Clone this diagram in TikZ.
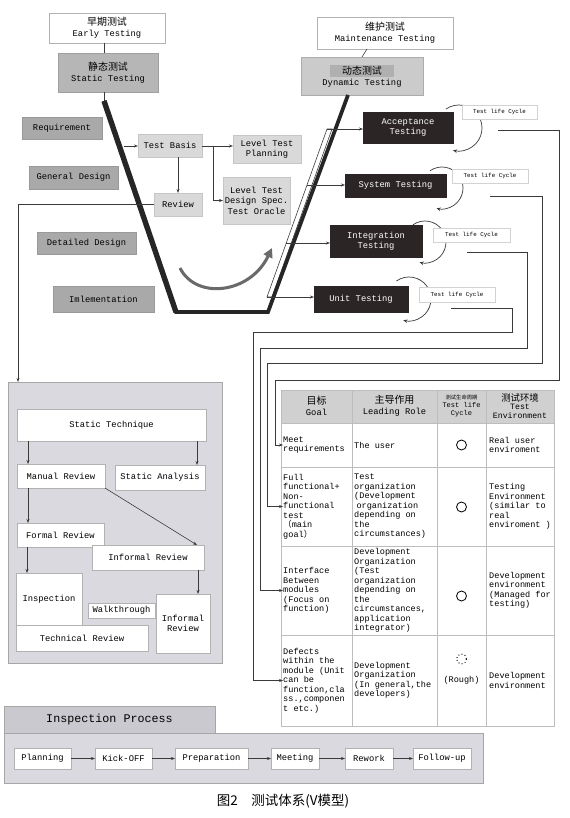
\documentclass[tikz,border=0pt]{standalone}
\usepackage{fontspec}
\setmainfont{Liberation Mono}
\newfontfamily\cjk{Noto Sans CJK SC}
\usepackage{tikz}
\usetikzlibrary{positioning,arrows.meta,calc}
\definecolor{phasec}{HTML}{A9A9A9}
\definecolor{statc}{HTML}{B6B6B6}
\definecolor{dync}{HTML}{CBCBCB}
\definecolor{bandc}{HTML}{B0B0B0}
\definecolor{basec}{HTML}{D9D9D9}
\definecolor{testc}{HTML}{2B2625}
\definecolor{panelc}{HTML}{D9D9DF}
\definecolor{tabc}{HTML}{C9C9CF}
\definecolor{headc}{HTML}{D0D0D0}
\definecolor{linec}{HTML}{3A3A3A}
\definecolor{gridc}{HTML}{BDBDBD}
\definecolor{curvec}{HTML}{6A6A6A}
\newcommand{\zh}[1]{{\cjk\fontsize{8.5}{10}\selectfont #1}}
\newcommand{\boxat}[7]{%
  \node[#6, minimum width={(#4-#2)*0.03cm}, minimum height={(#5-#3)*0.03cm}] (#1) at ({(#2+#4)/2},{(#3+#5)/2}) {#7};
}

\begin{document}
\begin{tikzpicture}[x=0.03cm,y=-0.03cm,
  every node/.style={font=\fontsize{7.5}{9}\selectfont},
  plainbox/.style={draw=gray!60, fill=white, inner sep=0pt, outer sep=0pt, align=center},
  statbox/.style={plainbox, fill=statc, draw=gray!75},
  dynbox/.style={plainbox, fill=dync, draw=gray!65},
  phasebox/.style={plainbox, fill=phasec, draw=gray!80},
  basebox/.style={plainbox, fill=basec, draw=gray!45},
  testbox/.style={plainbox, fill=testc, draw=testc, text=white},
  lifebox/.style={plainbox, draw=gray!35, font=\fontsize{5}{6}\selectfont},
  panel/.style={plainbox, fill=panelc, draw=gray!70},
  arr/.style={draw=linec, line width=0.5pt, -{Stealth[length=3.5pt,width=2.6pt]}},
  looparr/.style={draw=linec, line width=0.6pt, -{Stealth[length=3.5pt,width=3pt]}},
  link/.style={draw=linec, line width=0.5pt},
  cell/.style={align=left, inner sep=0pt, anchor=west, font=\fontsize{7.3}{8.1}\selectfont}]
  \useasboundingbox (0,0) rectangle (570,818);

  % early / maintenance testing
  \boxat{early}{49}{13}{165}{43}{plainbox}{\zh{早期测试}\\Early Testing}
  \boxat{stat}{58}{53}{158}{92}{statbox}{\zh{静态测试}\\Static Testing}
  \boxat{maint}{317}{17}{453}{49}{plainbox}{\zh{维护测试}\\Maintenance Testing}
  \boxat{dyn}{301}{57}{423}{95}{dynbox}{{\fboxsep=1pt\colorbox{bandc}{\makebox[1.85cm]{\zh{动态测试}}}}\\Dynamic Testing}

  % the V
  \coordinate (vtl) at (104,101);
  \coordinate (vbl) at (176,312);
  \coordinate (vbr) at (268,312);
  \coordinate (vtr) at (348,95);
  \draw[link] (early.south -| vtl) -- (stat.north -| vtl);
  \draw[link] (stat.south -| vtl) -- (vtl);
  \draw[link] ([xshift=-0.54cm]maint.south) -- (dyn.north);
  \coordinate (b1) at (327,129);
  \coordinate (b2) at (307,185);
  \coordinate (b3) at (286,243);
  \coordinate (b4) at (267,297);
  \draw[link] (b4) -- (b1) -- (332,129) -- (272,297) -- cycle;
  \draw[line width=3.2pt, black!85, line join=miter] (vtl) -- (vbl) -- (vbr) -- (vtr);
  \draw[line width=4.6pt, black!85] (vtl) -- (vbl);

  % phases
  \boxat{req}{22}{117}{102}{139}{phasebox}{Requirement}
  \boxat{gen}{29}{166}{118}{189}{phasebox}{General Design}
  \boxat{det}{37}{232}{136}{254}{phasebox}{Detailed Design}
  \boxat{imp}{53}{286}{154}{312}{phasebox}{Imlementation}

  \boxat{basis}{138}{134}{202}{157}{basebox}{Test Basis}
  \boxat{ltp}{233}{135}{301}{163}{basebox}{Level Test\\Planning}
  \boxat{lts}{223}{177}{290}{224}{basebox}{Level Test\\Design Spec.\\Test Oracle}
  \boxat{rev}{154}{193}{202}{216}{basebox}{Review}
  \coordinate (vin) at (124,146);
  \coordinate (br) at (213,146);
  \draw[arr] (vin) -- (vin -| basis.west);
  \draw[arr] (basis.east |- vin) -- (vin -| ltp.west);
  \draw[arr] (br) |- (lts.west);
  \draw[arr] (rev.north |- basis.south) -- (rev.north);

  % curved arrow
  \coordinate (cs) at (180,268);
  \coordinate (ce) at (272,248);
  \draw[curvec, line width=2.6pt, -{Triangle[length=8pt,width=8pt]}] (cs) .. controls (196,300) and (250,294) .. (ce);

  % test levels
  \foreach \cx/\cy/\r in {459/128/23, 442/188/21, 425/242/21, 409/299/22}
    \draw[looparr] ([shift={(-125:\r)}]\cx,\cy) arc[start angle=-125, end angle=105, radius=\r];
  \boxat{acc}{363}{112}{453}{143}{testbox}{Acceptance\\Testing}
  \boxat{sys}{345}{174}{446}{197}{testbox}{System Testing}
  \boxat{int}{330}{225}{422}{257}{testbox}{Integration\\Testing}
  \boxat{unit}{314}{286}{408}{312}{testbox}{Unit Testing}
  \draw[arr] (b1) -- (b1 -| acc.west);
  \draw[arr] (b2) -- (b2 -| sys.west);
  \draw[arr] (b3) -- (b3 -| int.west);
  \draw[arr] (b4) -- (b4 -| unit.west);
  \foreach \i/\a/\b/\c/\d in {1/462/105/537/119, 2/452/169/528/183, 3/433/228/510/242, 4/419/287/495/302}
    \boxat{life\i}{\a}{\b}{\c}{\d}{lifebox}{Test life Cycle};

  % table
  \fill[headc] (281,390) rectangle (554,423);
  \draw[gridc, line width=0.6pt] (281,390) rectangle (554,726);
  \foreach \y in {423,467,546,635} \draw[gridc, line width=0.6pt] (281,\y) -- (554,\y);
  \foreach \x in {352,437,486} \draw[gridc, line width=0.6pt] (\x,390) -- (\x,726);
  \node[align=center] (h1) at (316.5,406) {\zh{目标}\\Goal};
  \node[align=center] (h2) at (394.5,406) {\zh{主导作用}\\Leading Role};
  \node[align=center, font=\fontsize{6}{7}\selectfont] (h3) at (461.5,406) {{\cjk\fontsize{4.5}{6}\selectfont 测试生命周期}\\Test life\\Cycle};
  \node[align=center, font=\fontsize{7}{7.6}\selectfont] (h4) at (520,406) {{\cjk\fontsize{8}{9}\selectfont 测试环境}\\Test\\Environment};

  \node[cell] (g1) at (283,445) {Meet\\requirements};
  \node[cell] (r1) at (354,445) {The user};
  \node[cell] (e1) at (489,445) {Real user\\enviroment};
  \node[cell] (g2) at (283,506.5) {Full\\functional+\\Non-\\functional\\test\\{\cjk （}main\\goal{\cjk ）}};
  \node[cell] (r2) at (354,506.5) {Test\\organization\\(Development\\\hspace{2pt}organization\\depending on\\the\\circumstances)};
  \node[cell] (e2) at (489,506.5) {Testing\\Environment\\(similar to\\real\\enviroment )};
  \node[cell] (g3) at (283,590.5) {Interface\\Between\\modules\\(Focus on\\function)};
  \node[cell] (r3) at (354,590.5) {Development\\Organization\\(Test\\organization\\depending on\\the\\circumstances,\\application\\integrator)};
  \node[cell] (e3) at (489,590.5) {Development\\environment\\(Managed for\\testing)};
  \node[cell] (g4) at (283,680.5) {Defects\\within the\\module (Unit\\can be\\function,cla\\ss.,componen\\t etc.)};
  \node[cell] (r4) at (354,680.5) {Development\\Organization\\(In general,the\\developers)};
  \node[cell] (e4) at (489,680.5) {Development\\environment};
  \foreach \y in {445,507,596} \draw[line width=0.7pt] (461.5,\y) circle[radius=5];
  \draw[dotted, line width=0.8pt] (461.5,659) circle[radius=5];
  \node[font=\fontsize{7.3}{8.5}\selectfont] (c4) at (461.5,680) {(Rough)};

  % test life cycle -> table
  \coordinate (o1) at (498,130);
  \coordinate (o2) at (490,196);
  \coordinate (o3) at (467,252);
  \coordinate (o4) at (451,308);
  \foreach \i/\rx/\hy/\lx in {1/559/380/275, 2/542/363/267, 3/527/348/260, 4/512/332/253}
    \draw[arr] (o\i) -| (\rx,\hy) -- (\lx,\hy) |- (g\i.west);

  % static technique
  \boxat{spanel}{8}{382}{222}{663}{panel}{}
  \draw[arr] (rev.west) -| ([xshift=0.3cm]spanel.north west);
  \boxat{tech}{17}{409}{206}{441}{plainbox}{Static Technique}
  \boxat{man}{17}{464}{105}{488}{plainbox}{Manual Review}
  \boxat{ana}{115}{465}{205}{490}{plainbox}{Static Analysis}
  \boxat{formal}{17}{523}{104}{547}{plainbox}{Formal Review}
  \boxat{inf1}{92}{545}{204}{570}{plainbox}{Informal Review}
  \boxat{insp}{16}{573}{82}{625}{plainbox}{Inspection}
  \boxat{techrev}{16}{625}{148}{651}{plainbox}{Technical Review}
  \boxat{walk}{88}{603}{155}{618}{plainbox}{Walkthrough}
  \boxat{inf2}{156}{594}{210}{653}{plainbox}{Informal\\Review}
  \draw[arr] ([xshift=0.33cm]tech.south west) -- ([xshift=0.33cm]man.north west);
  \draw[arr] ([xshift=-0.27cm]tech.south east) -- ([xshift=-0.27cm]tech.south east |- ana.north);
  \draw[arr] ([xshift=0.33cm]man.south west) -- ([xshift=0.33cm]formal.north west);
  \draw[arr] (man.south east) -- ([xshift=-0.21cm]inf1.north east);
  \draw[arr] ([xshift=0.3cm]formal.south west) -- ([xshift=0.3cm]formal.south west |- insp.north);
  \draw[arr] ([xshift=-0.18cm]inf1.south east) -- ([xshift=-0.18cm]inf1.south east |- inf2.north);

  % inspection process
  \boxat{itab}{4}{706}{215}{733}{panel, fill=tabc, font=\fontsize{10}{12}\selectfont}{Inspection Process}
  \boxat{ipanel}{4}{733}{483}{783}{panel}{}
  \foreach \i/\a/\b/\t in {1/14/71/Planning, 2/95/152/Kick-OFF, 3/175/248/Preparation, 4/271/319/Meeting, 5/345/393/Rework, 6/413/471/Follow-up}
    \boxat{s\i}{\a}{748}{\b}{769}{plainbox}{\t};
  \foreach \i [evaluate=\i as \j using int(\i+1)] in {1,...,5}
    \draw[arr] (s\i.east) -- (s\j.west);

  \node[font=\cjk\fontsize{11.5}{13}\selectfont] (cap) at (283,801) {图2\quad 测试体系(V模型)};
\end{tikzpicture}
\end{document}
